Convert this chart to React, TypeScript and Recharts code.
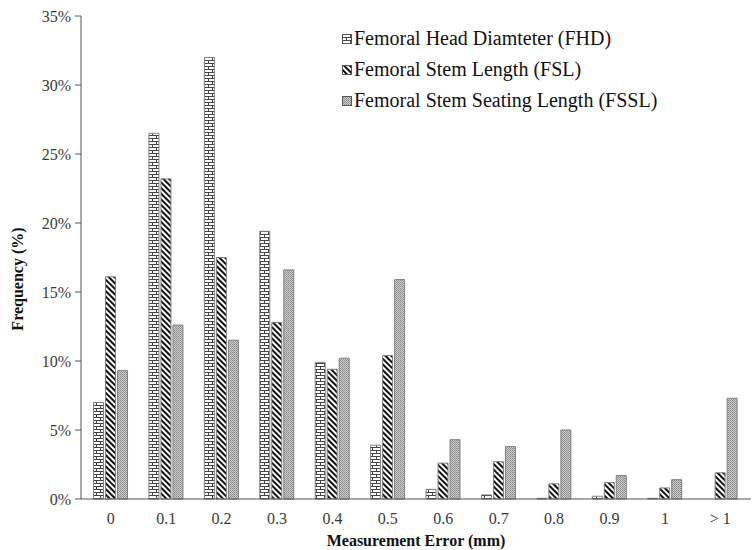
import { BarChart, Bar, XAxis, YAxis, Legend, Label } from 'recharts'

/* ── Data ───────────────────────────────────────────────────────────── */

const ERRORS = ['0', '0.1', '0.2', '0.3', '0.4', '0.5', '0.6', '0.7', '0.8', '0.9', '1', '> 1']

// frequency in percent
const FHD = [7.0, 26.5, 32.0, 19.4, 9.9, 3.9, 0.7, 0.3, 0.05, 0.2, 0.05, 0]
const FSL = [16.1, 23.2, 17.5, 12.8, 9.4, 10.4, 2.6, 2.7, 1.1, 1.2, 0.8, 1.9]
const FSSL = [9.3, 12.6, 11.5, 16.6, 10.2, 15.9, 4.3, 3.8, 5.0, 1.7, 1.4, 7.3]

const Y_TICKS = [0, 5, 10, 15, 20, 25, 30, 35]

const SERIES = [
  { key: 'fhd', name: 'Femoral Head Diamteter (FHD)', fill: 'url(#brick)' },
  { key: 'fsl', name: 'Femoral Stem Length (FSL)', fill: 'url(#diag)' },
  { key: 'fssl', name: 'Femoral Stem Seating Length (FSSL)', fill: 'url(#dots)' },
]

const data = ERRORS.map((e, i) => ({ error: e, fhd: FHD[i], fsl: FSL[i], fssl: FSSL[i] }))

const FONT = 'Liberation Serif'
const INK = '#3a3a3a'

/* ── Fill patterns ──────────────────────────────────────────────────── */

function Patterns() {
  return (
    <defs>
      <pattern id="brick" width="8" height="6" patternUnits="userSpaceOnUse">
        <rect width="8" height="6" fill="#ffffff" />
        <path d="M0 0.5H8M0 3.5H8M0.5 0V3.5M4.5 3.5V6" stroke="#444" strokeWidth="1" fill="none" />
      </pattern>
      <pattern id="diag" width="4" height="4" patternUnits="userSpaceOnUse" patternTransform="rotate(-45)">
        <rect width="4" height="4" fill="#ffffff" />
        <rect width="2" height="4" fill="#111" />
      </pattern>
      <pattern id="dots" width="2" height="2" patternUnits="userSpaceOnUse">
        <rect width="2" height="2" fill="#cccccc" />
        <rect width="1" height="1" fill="#888" />
        <rect x="1" y="1" width="1" height="1" fill="#999" />
      </pattern>
    </defs>
  )
}

/* ── Legend ─────────────────────────────────────────────────────────── */

function SeriesLegend() {
  return (
    <div style={{ fontFamily: FONT, fontSize: 20, color: '#111' }}>
      {SERIES.map((s) => (
        <div key={s.key} style={{ display: 'flex', alignItems: 'center', height: 31 }}>
          <svg width={10} height={10} style={{ marginRight: 2 }}>
            <rect x={0.5} y={0.5} width={9} height={9} fill={s.fill} stroke="#555" />
          </svg>
          <span>{s.name}</span>
        </div>
      ))}
    </div>
  )
}

/* ── Chart ──────────────────────────────────────────────────────────── */

export default function App() {
  return (
    <div style={{ width: 752, height: 550, fontFamily: FONT }}>
      <style>{'body{margin:0}'}</style>
      <BarChart
        width={752}
        height={550}
        data={data}
        margin={{ top: 16, right: 1, bottom: 0, left: 0 }}
        barCategoryGap="19%"
        barGap={2}
        style={{ fontFamily: FONT }}
      >
        <Patterns />
        <XAxis
          dataKey="error"
          height={51}
          padding={{ left: 2, right: 3 }}
          tickLine={false}
          axisLine={{ stroke: '#555' }}
          tick={{ fill: INK, fontFamily: FONT, fontSize: 16 }}
          tickMargin={8}
        >
          <Label
            content={({ viewBox }: any) => (
              <text
                x={viewBox.x + viewBox.width / 2}
                y={viewBox.y + 47}
                textAnchor="middle"
                fontFamily={FONT}
                fontSize={16}
                fontWeight="bold"
                fill="#111"
              >
                Measurement Error (mm)
              </text>
            )}
          />
        </XAxis>
        <YAxis
          width={81}
          domain={[0, 35]}
          ticks={Y_TICKS}
          interval={0}
          tickFormatter={(v: number) => `${v}%`}
          tickSize={6}
          tickMargin={4}
          tickLine={{ stroke: '#555' }}
          axisLine={{ stroke: '#555' }}
          tick={{ fill: INK, fontFamily: FONT, fontSize: 16 }}
        >
          <Label
            content={() => (
              <text
                x={0}
                y={0}
                transform="translate(23 279) rotate(-90)"
                textAnchor="middle"
                fontFamily={FONT}
                fontSize={16}
                fontWeight="bold"
                fill="#111"
              >
                Frequency (%)
              </text>
            )}
          />
        </YAxis>
        <Legend
          layout="vertical"
          verticalAlign="middle"
          align="center"
          content={<SeriesLegend />}
          wrapperStyle={{ top: 23, left: 342, width: 380 }}
        />
        {SERIES.map((s) => (
          <Bar
            key={s.key}
            dataKey={s.key}
            name={s.name}
            fill={s.fill}
            stroke="#808080"
            strokeWidth={1}
            isAnimationActive={false}
          />
        ))}
      </BarChart>
    </div>
  )
}
